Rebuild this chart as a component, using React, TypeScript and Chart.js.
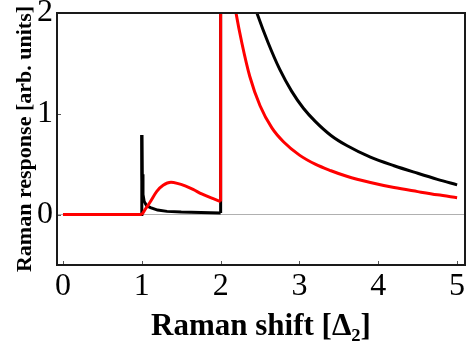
import React, { useEffect, useRef } from "react";
import { Chart, registerables } from "chart.js";

Chart.register(...registerables);

const xTicks = [0, 1, 2, 3, 4, 5];
const yTicks = [0, 1, 2];

// Black curve pieces
const blackFlatX = [0, 1, 1];
const blackFlatY = [0, 0, 0.79];
const blackDecayX = [1.0, 1.005, 1.015, 1.03, 1.06, 1.11, 1.2, 1.32, 1.5, 1.75, 2.0];
const blackDecayY = [0.79, 0.4, 0.2, 0.13, 0.09, 0.07, 0.045, 0.032, 0.025, 0.02, 0.015];
const blackJumpX = [2.0, 2.0];
const blackJumpY = [0.015, 2.6];
const blackTailX = [2.2, 2.3, 2.4, 2.46, 2.6, 2.75, 2.9, 3.05, 3.2, 3.4, 3.6, 3.9, 4.2, 4.5, 4.75, 5.0];
const blackTailY = [2.73, 2.42, 2.14, 2.0, 1.71, 1.44, 1.225, 1.055, 0.925, 0.785, 0.685, 0.57, 0.485, 0.41, 0.35, 0.295];

// Red curve pieces
const redFlatX = [0, 1];
const redFlatY = [0, 0];
const redHumpX = [1.0, 1.05, 1.11, 1.19, 1.27, 1.37, 1.45, 1.55, 1.65, 1.76, 1.88, 2.0];
const redHumpY = [0, 0.06, 0.13, 0.23, 0.29, 0.32, 0.31, 0.285, 0.25, 0.205, 0.165, 0.13];
const redJumpX = [2.0, 2.0];
const redJumpY = [0.13, 2.6];
const redTailX = [2.1, 2.15, 2.195, 2.27, 2.37, 2.5, 2.65, 2.8, 3.0, 3.2, 3.4, 3.6, 3.9, 4.2, 4.5, 4.75, 5.0];
const redTailY = [2.55, 2.22, 2.0, 1.7, 1.37, 1.08, 0.86, 0.72, 0.59, 0.5, 0.435, 0.38, 0.318, 0.268, 0.228, 0.196, 0.168];

const FONT = "'Liberation Serif', 'Times New Roman', serif";

function mk(xs: number[], ys: number[], color: string, smooth: boolean, order: number) {
  return {
    data: xs.map((x, i) => ({ x, y: ys[i] })),
    borderColor: color,
    backgroundColor: color,
    borderWidth: 3,
    pointRadius: 0,
    tension: smooth ? 0.4 : 0,
    cubicInterpolationMode: smooth ? "monotone" : "default",
    fill: false,
    order,
  };
}

const framePlugin = {
  id: "frame",
  afterDatasetsDraw(chart: any) {
    const { ctx, chartArea, scales } = chart;
    const { left, top, right, bottom } = chartArea;
    ctx.save();
    ctx.strokeStyle = "#555";
    ctx.lineWidth = 1;
    ctx.beginPath();
    for (const v of xTicks) {
      const px = Math.round(scales.x.getPixelForValue(v)) + 0.5;
      ctx.moveTo(px, bottom);
      ctx.lineTo(px, bottom - 4);
    }
    for (const v of yTicks) {
      const py = Math.round(scales.y.getPixelForValue(v)) + 0.5;
      ctx.moveTo(left, py);
      ctx.lineTo(left + 4, py);
    }
    ctx.stroke();
    ctx.strokeStyle = "#1a1a1a";
    ctx.lineWidth = 2;
    ctx.strokeRect(left, top, right - left, bottom - top);
    ctx.restore();
  },
};

export default function App() {
  const ref = useRef<HTMLCanvasElement | null>(null);
  useEffect(() => {
    if (!ref.current) return;
    const chart = new Chart(ref.current, {
      type: "line",
      data: {
        datasets: [
          mk(redFlatX, redFlatY, "#ff0000", false, 1),
          mk(redHumpX, redHumpY, "#ff0000", true, 1),
          mk(redJumpX, redJumpY, "#ff0000", false, 1),
          mk(redTailX, redTailY, "#ff0000", true, 1),
          mk(blackFlatX, blackFlatY, "#000000", false, 2),
          mk(blackDecayX, blackDecayY, "#000000", false, 2),
          mk(blackJumpX, blackJumpY, "#000000", false, 2),
          mk(blackTailX, blackTailY, "#000000", true, 2),
        ] as any,
      },
      options: {
        animation: false,
        responsive: false,
        events: [],
        layout: { padding: { top: 13, right: 1, left: 0, bottom: 0 } },
        elements: { line: { capBezierPoints: false } as any },
        plugins: { legend: { display: false }, tooltip: { enabled: false } },
        scales: {
          x: {
            type: "linear",
            min: -0.076,
            max: 5.1,
            afterBuildTicks: (s: any) => {
              s.ticks = xTicks.map((v) => ({ value: v }));
            },
            afterFit: (s: any) => {
              s.height = 84;
              s.paddingLeft = 0;
              s.paddingRight = 0;
            },
            ticks: {
              font: { family: FONT, size: 32 },
              color: "#000",
              padding: 2,
              maxRotation: 0,
              autoSkip: false,
            },
            grid: { display: false, drawTicks: false },
            border: { display: false },
            title: {
              display: true,
              text: "Raman shift [Δ₂]",
              font: { family: FONT, size: 31, weight: "bold" },
              color: "#000",
              padding: { top: 0, bottom: 3 },
            },
          },
          y: {
            type: "linear",
            min: -0.5,
            max: 2,
            afterBuildTicks: (s: any) => {
              s.ticks = yTicks.map((v) => ({ value: v }));
            },
            afterFit: (s: any) => {
              s.width = 57;
              s.paddingTop = 0;
              s.paddingBottom = 0;
            },
            ticks: {
              font: { family: FONT, size: 32 },
              color: "#000",
              padding: 4,
            },
            grid: {
              drawTicks: false,
              lineWidth: 1,
              color: (c: any) => (c.tick && c.tick.value === 0 ? "#b0b0b0" : "rgba(0,0,0,0)"),
            },
            border: { display: false },
            title: {
              display: true,
              text: "Raman response [arb. units]",
              font: { family: FONT, size: 22, weight: "bold" },
              color: "#000",
              padding: { top: 12, bottom: 0 },
            },
          },
        },
      },
      plugins: [framePlugin],
    });
    return () => chart.destroy();
  }, []);
  return (
    <div style={{ position: "fixed", left: 0, top: 0, width: 466, height: 349, background: "#fff" }}>
      <canvas ref={ref} width={466} height={349} style={{ display: "block" }} />
    </div>
  );
}
